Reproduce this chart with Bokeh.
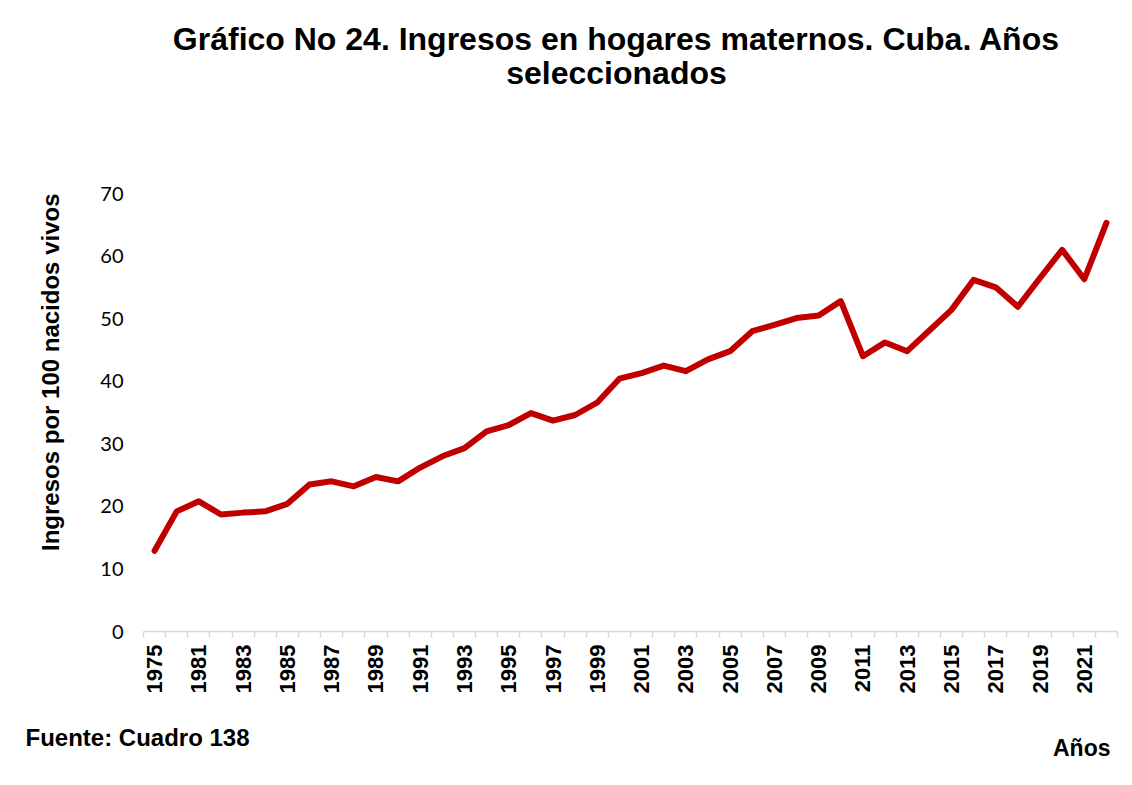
import math
from bokeh.plotting import figure
from bokeh.models import Range1d, FixedTicker, Label, ColumnDataSource, Title
from bokeh.layouts import column
from bokeh.embed import file_html
from bokeh.resources import INLINE

# ---- data ----
years = ["1975", "1980", "1981", "1982", "1983", "1984", "1985", "1986", "1987", "1988",
         "1989", "1990", "1991", "1992", "1993", "1994", "1995", "1996", "1997", "1998",
         "1999", "2000", "2001", "2002", "2003", "2004", "2005", "2006", "2007", "2008",
         "2009", "2010", "2011", "2012", "2013", "2014", "2015", "2016", "2017", "2018",
         "2019", "2020", "2021", "2022"]
ingresos = [12.9, 19.2, 20.8, 18.7, 19.0, 19.2, 20.4, 23.5, 24.0, 23.2,
            24.7, 24.0, 26.2, 28.0, 29.3, 32.0, 33.0, 34.9, 33.7, 34.6,
            36.6, 40.4, 41.3, 42.5, 41.6, 43.5, 44.8, 48.0, 49.0, 50.1,
            50.5, 52.8, 44.0, 46.2, 44.8, 48.1, 51.4, 56.2, 55.0, 51.9,
            56.5, 61.0, 56.3, 65.3]
y_ticks = [0, 10, 20, 30, 40, 50, 60, 70]

title_lines = ["Gráfico No 24. Ingresos en hogares maternos. Cuba. Años", "seleccionados"]
y_label = "Ingresos por 100 nacidos vivos"
x_label = "Años"
source_note = "Fuente: Cuadro 138"

FONT = "Liberation Sans"
W = 1124
HEAD_H, MAIN_H, FOOT_H = 110, 590, 77


def blank(h):
    f = figure(width=W, height=h, output_backend="svg", toolbar_location=None,
               x_range=Range1d(0, W), y_range=Range1d(0, h),
               x_axis_type=None, y_axis_type=None,
               min_border=0, min_border_left=0, min_border_right=0,
               min_border_top=0, min_border_bottom=0, frame_align=False)
    f.outline_line_color = None
    f.grid.visible = False
    f.background_fill_color = "white"
    f.border_fill_color = "white"
    return f


def lab(f, text, x, y, size, align="left"):
    f.add_layout(Label(x=x, y=y, text=text, text_font=FONT,
                       text_font_style="bold", text_font_size=size,
                       text_color="black", text_align=align, text_baseline="middle"))


# ---- heading ----
head = blank(HEAD_H)
lab(head, title_lines[0], 616, HEAD_H - 38, "32px", "center")
lab(head, title_lines[1], 616, HEAD_H - 72, "32px", "center")

# ---- main chart ----
idx = list(range(len(years)))
src = ColumnDataSource(dict(x=idx, y=ingresos, year=years))

p = figure(width=W, height=MAIN_H, output_backend="svg", toolbar_location=None,
           x_range=Range1d(-0.5, len(years) - 0.5), y_range=Range1d(0, 70),
           min_border_left=142, min_border_right=W - 1117,
           min_border_top=193 - HEAD_H, min_border_bottom=HEAD_H + MAIN_H - 631,
           frame_align=False)
p.outline_line_color = None
p.background_fill_color = "white"
p.border_fill_color = "white"
p.grid.visible = False

p.line("x", "y", source=src, line_color="#c00000", line_width=6,
       line_join="round", line_cap="round")

xa = p.xaxis[0]
xa.ticker = FixedTicker(ticks=idx[::2], minor_ticks=[i - 0.5 for i in range(len(years) + 1)])
xa.major_label_overrides = {i: years[i] for i in idx[::2]}
xa.major_label_orientation = math.pi / 2
xa.major_label_text_font = FONT
xa.major_label_text_font_style = "bold"
xa.major_label_text_font_size = "22px"
xa.major_label_text_color = "black"
xa.major_label_standoff = 7
xa.major_tick_out = 0
xa.major_tick_in = 0
xa.minor_tick_out = 6
xa.minor_tick_in = 0
xa.minor_tick_line_color = "#d9d9d9"
xa.minor_tick_line_width = 1.5
xa.axis_line_color = "#d9d9d9"
xa.axis_line_width = 1.5

ya = p.yaxis[0]
ya.ticker = FixedTicker(ticks=y_ticks)
ya.axis_line_color = None
ya.major_tick_line_color = None
ya.minor_tick_line_color = None
ya.major_label_text_font = "Lato"
ya.major_label_text_font_size = "20px"
ya.major_label_text_color = "black"
ya.major_label_standoff = 14

p.add_layout(Title(text=y_label, align="right", standoff=68,
                   text_font=FONT, text_font_style="bold", text_font_size="24px",
                   text_color="black"), "left")

# ---- footer ----
foot = blank(FOOT_H)
lab(foot, source_note, 25, FOOT_H - 37, "24px", "left")
lab(foot, x_label, 1110, FOOT_H - 47, "23px", "right")

layout = column(head, p, foot, spacing=0)
open("out.html", "w").write(file_html(layout, INLINE))
